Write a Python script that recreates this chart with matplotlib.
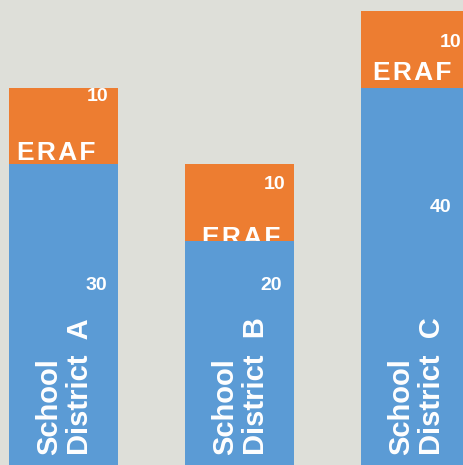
import matplotlib
matplotlib.use("Agg")
import matplotlib.pyplot as plt

# data
districts = ["School\nDistrict  A", "School\nDistrict  B", "School\nDistrict  C"]
district_base = [30, 20, 40]
eraf_share = [10, 10, 10]
eraf_name = "ERAF"

BLUE = "#5B9BD5"
ORANGE = "#ED7D31"
BG = "#DEDFD9"

plt.rcParams["font.family"] = ["Liberation Sans", "DejaVu Sans"]
plt.rcParams["font.weight"] = "bold"

fig = plt.figure(figsize=(4.63, 4.65), dpi=100, facecolor=BG)
ax = fig.add_axes([0, 0, 1, 1])
ax.set_facecolor(BG)

ymin, ymax = -9.1, 51.4
x = list(range(len(districts)))
width = 0.62

base_h = [v - ymin for v in district_base]
ax.bar(x, base_h, width=width, bottom=ymin, color=BLUE, zorder=3)
ax.bar(x, eraf_share, width=width, bottom=district_base, color=ORANGE, zorder=1)

# per-bar label offsets in pixels (from the blue/orange boundary, or bar centre)
ten_dy = [68, 57, 45]
eraf_dy = [4, -4, 8]
eraf_dx = [-46, -37, -42]
num_dy = [-121, -44, -120]
num_dx = [44, 42, 36]
ten_dx = [45, 46, 46]

for i, (name, b, e) in enumerate(zip(districts, district_base, eraf_share)):
    ax.annotate(str(e), xy=(i, b), xytext=(ten_dx[i], ten_dy[i]),
                textcoords="offset pixels", ha="right", va="center",
                color="white", fontsize=14, fontweight="bold", zorder=4)
    ax.annotate("\u200a".join(eraf_name), xy=(i, b), xytext=(eraf_dx[i], eraf_dy[i]),
                textcoords="offset pixels", ha="left", va="baseline",
                color="white", fontsize=19, fontweight="bold", zorder=2)
    ax.annotate(str(b), xy=(i, b), xytext=(num_dx[i], num_dy[i]),
                textcoords="offset pixels", ha="right", va="center",
                color="white", fontsize=14, fontweight="bold", zorder=4)
    ax.annotate(name, xy=(i, ymin), xytext=(31, 10),
                textcoords="offset pixels", ha="left", va="bottom",
                rotation=90, rotation_mode="anchor",
                color="white", fontsize=21, fontweight="bold", zorder=4,
                linespacing=1.15)

ax.set_xlim(-63.5 / 176, (463 - 63.5) / 176)
ax.set_ylim(ymin, ymax)
ax.axis("off")

fig.savefig("out.png", dpi=100, facecolor=BG)
